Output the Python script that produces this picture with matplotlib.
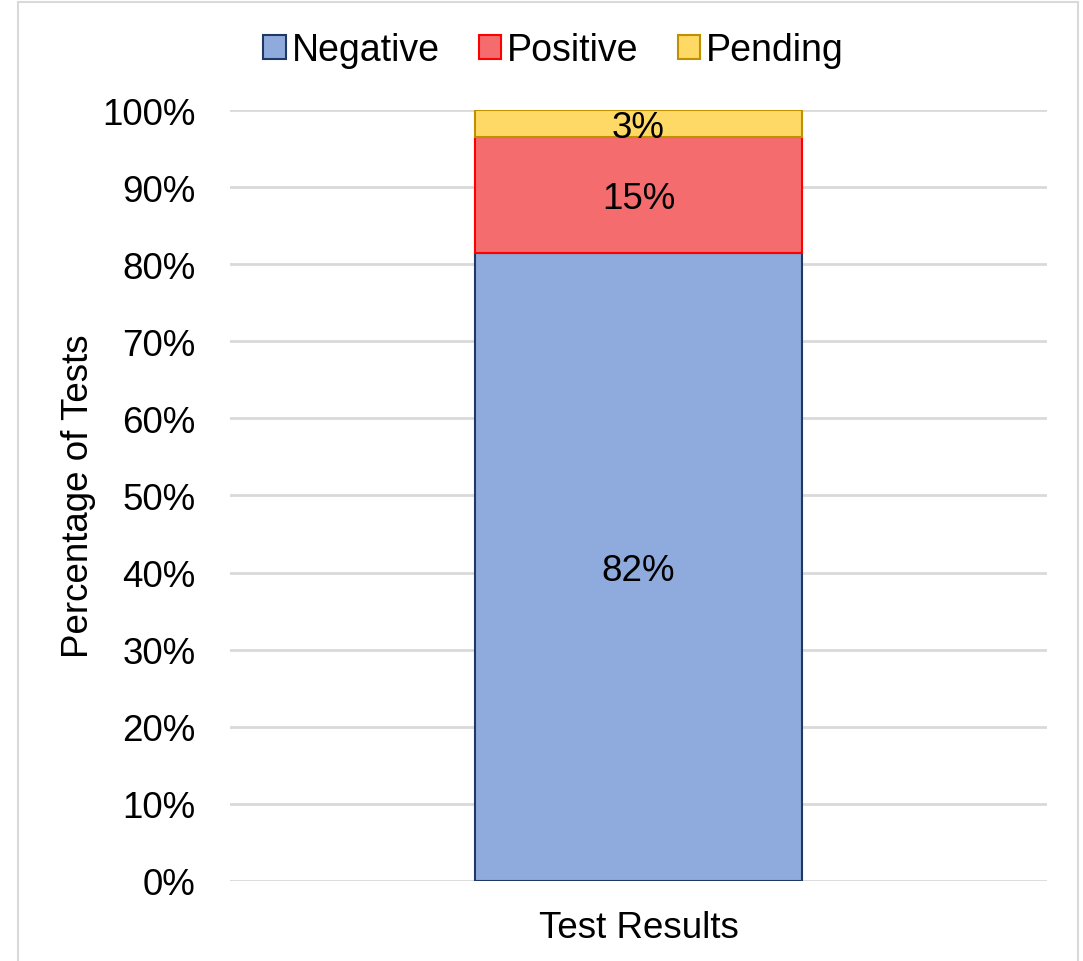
import matplotlib.pyplot as plt
from matplotlib.patches import Rectangle

plt.rcParams['font.family'] = ['Liberation Sans', 'DejaVu Sans']

# Data
category = ["Test Results"]
series_names = ["Negative", "Positive", "Pending"]
negative = [81.5]
positive = [15.0]
pending = [3.5]
value_labels = ["82%", "15%", "3%"]
yticks = [0, 10, 20, 30, 40, 50, 60, 70, 80, 90, 100]

fills = ["#8faadc", "#f56c6e", "#ffd966"]
edges = ["#203864", "#ff0000", "#bf9000"]

fig = plt.figure(figsize=(10.83, 9.62), dpi=100)
ax = fig.add_axes([0.2124, 0.0832, 0.7544, 0.8014])

# light border around the chart area
fig.patches.append(Rectangle((0.017, -0.01), 0.978, 1.007, transform=fig.transFigure,
                             fill=False, edgecolor="#d9d9d9", linewidth=1.5))

bottom = [0.0]
for name, vals, fc, ec, lab in zip(series_names, [negative, positive, pending], fills, edges, value_labels):
    bars = ax.bar(category, vals, width=0.4, bottom=bottom, color=fc, edgecolor=ec,
                  linewidth=1.5, label=name, zorder=3)
    texts = ax.bar_label(bars, labels=[lab], label_type="center", fontsize=26.5, color="black")
    for t in texts:
        t.set_verticalalignment("center_baseline")
    bottom = [b + v for b, v in zip(bottom, vals)]

ax.set_xlim(-0.5, 0.5)
ax.set_ylim(0, 100)
ax.set_yticks(yticks)
ax.set_yticklabels([f"{t}%" for t in yticks])
ax.yaxis.grid(True, color="#d9d9d9", linewidth=2)
ax.set_axisbelow(True)
for s in ax.spines.values():
    s.set_visible(False)
ax.tick_params(length=0, labelsize=26.5, pad=25)
ax.tick_params(axis="x", pad=21)
ax.set_ylabel("Percentage of Tests", fontsize=26.5, labelpad=4)

fig.legend(loc="center", bbox_to_anchor=(0.511, 0.947), ncol=3, frameon=False,
           fontsize=27, handlelength=0.6, handleheight=0.6, handletextpad=0.16,
           columnspacing=1.04)

fig.savefig("out.png", dpi=100)
